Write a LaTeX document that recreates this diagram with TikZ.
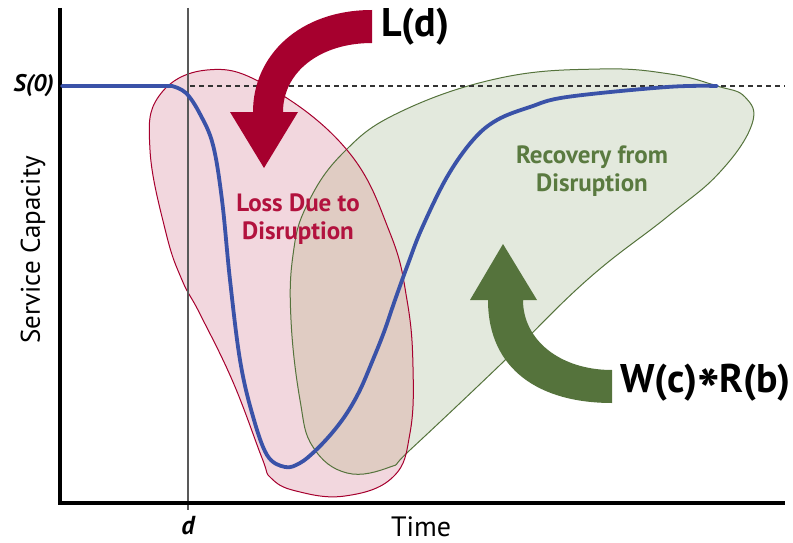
\documentclass[tikz,border=0pt]{standalone}
\usepackage{fontspec}
\setmainfont{PT Sans}
\usepackage{xcolor}
\usetikzlibrary{positioning}

\definecolor{lossred}{RGB}{166,0,46}
\definecolor{losstext}{RGB}{178,18,62}
\definecolor{lossfill}{RGB}{242,215,222}
\definecolor{recgreen}{RGB}{85,115,60}
\definecolor{rectext}{RGB}{90,122,64}
\definecolor{recfill}{RGB}{227,233,221}
\definecolor{bothfill}{RGB}{224,204,195}
\definecolor{curveblue}{RGB}{58,82,168}

\begin{document}
\begin{tikzpicture}[
    x=1pt, y=-1pt,
    every node/.style={inner sep=0pt},
    axis line/.style={line width=4pt},
    blob text/.style={font=\fontsize{25}{28}\selectfont\bfseries, align=center},
    big label/.style={font=\fontsize{40}{42}\selectfont\bfseries, anchor=west},
  ]
  \useasboundingbox (0,0) rectangle (793,543);

  % Coordinates
  \coordinate (o) at (60,503);
  \coordinate (ytop) at (60,8);
  \coordinate (xend) at (785,503);
  \coordinate (dtop) at (188,8);
  \coordinate (dbot) at (188,510);
  \coordinate (s0) at (62,86);
  \coordinate (knee) at (172,86);
  \coordinate (dashl) at (190,86);
  \coordinate (dashr) at (785,86);

  % Regions
  \path[save path=\lossregion] plot[smooth cycle, tension=0.7] coordinates {
    (207,70) (267,86) (347,150) (390,233) (407,300) (413,367) (410,433)
    (393,477) (345,496) (296,491) (271,478) (262,458) (233,382) (200,314)
    (182,280) (166,233) (150,150) (159,96)};
  \path[save path=\recregion] plot[smooth cycle, tension=0.7] coordinates {
    (291,320) (300,400) (313,447) (347,473) (390,467) (410,450)
    (500,365) (587,280) (667,217) (720,172) (752,124) (745,97) (717,86)
    (670,74) (600,69) (500,78) (400,112) (343,153) (307,205) (293,255)};
  \fill[recfill, use path=\recregion];
  \fill[lossfill, use path=\lossregion];
  \begin{scope}
    \clip[use path=\lossregion];
    \fill[bothfill, use path=\recregion];
  \end{scope}
  \draw[recgreen, line width=1pt, use path=\recregion];
  \draw[lossred, line width=1pt, use path=\lossregion];

  % Axes
  \draw[black!65, line width=1.2pt] (dtop) -- (dbot);
  \draw[axis line] (ytop) -- (o) -- (xend);
  \draw[black!80, line width=1.2pt, dash pattern=on 5pt off 4pt] (dashl) -- (dashr);

  % Capacity curve
  \draw[curveblue, line width=3.8pt, line cap=round, line join=round]
    (s0) -- (knee) -- plot[smooth, tension=0.6] coordinates {
    (172,86) (186,93) (200,114) (213,145) (222,200) (230,280) (240,360)
    (252,413) (267,455) (285,467) (300,463) (315,451) (332,433) (347,413)
    (360,390) (372,362) (384,332) (395,300) (408,264) (422,228) (447,177)
    (473,140) (497,120) (530,107) (567,97) (667,87) (717,86)};

  % Arrows
  \fill[lossred] (372,10) .. controls (300,10) and (253,55) .. (253,112)
    -- (230,112) -- (264,168) -- (298,112) -- (283,112)
    .. controls (283,72) and (320,43) .. (372,43) -- cycle;
  \fill[recgreen] (612,403) .. controls (540,403) and (488,370) .. (488,300)
    -- (470,300) -- (503,244) -- (537,300) -- (523,300)
    .. controls (523,340) and (560,370) .. (612,370) -- cycle;

  % Labels
  \node[font=\fontsize{24}{28}\selectfont\bfseries\itshape, anchor=east] (s0lbl) at (54,86) {S(0)};
  \node[font=\fontsize{26}{28}\selectfont\bfseries\itshape, anchor=base] (dlbl) at (188,534) {d};
  \node[font=\fontsize{28}{30}\selectfont, anchor=base] (tlbl) at (421,536) {Time};
  \node[font=\fontsize{27}{30}\selectfont, rotate=90] (ylbl) at (33,250) {Service Capacity};
  \node[big label] (ldlbl) at (381,27) {L(d)};
  \node[big label] (wrlbl) at (620,388) {W(c)\raisebox{-0.5em}{\scalebox{1.5}{*}}R(b)};
  \node[blob text, text=losstext] (losslbl) at (298,219) {Loss Due to\\Disruption};
  \node[blob text, text=rectext] (reclbl) at (592,171) {Recovery from\\Disruption};

\end{tikzpicture}
\end{document}
